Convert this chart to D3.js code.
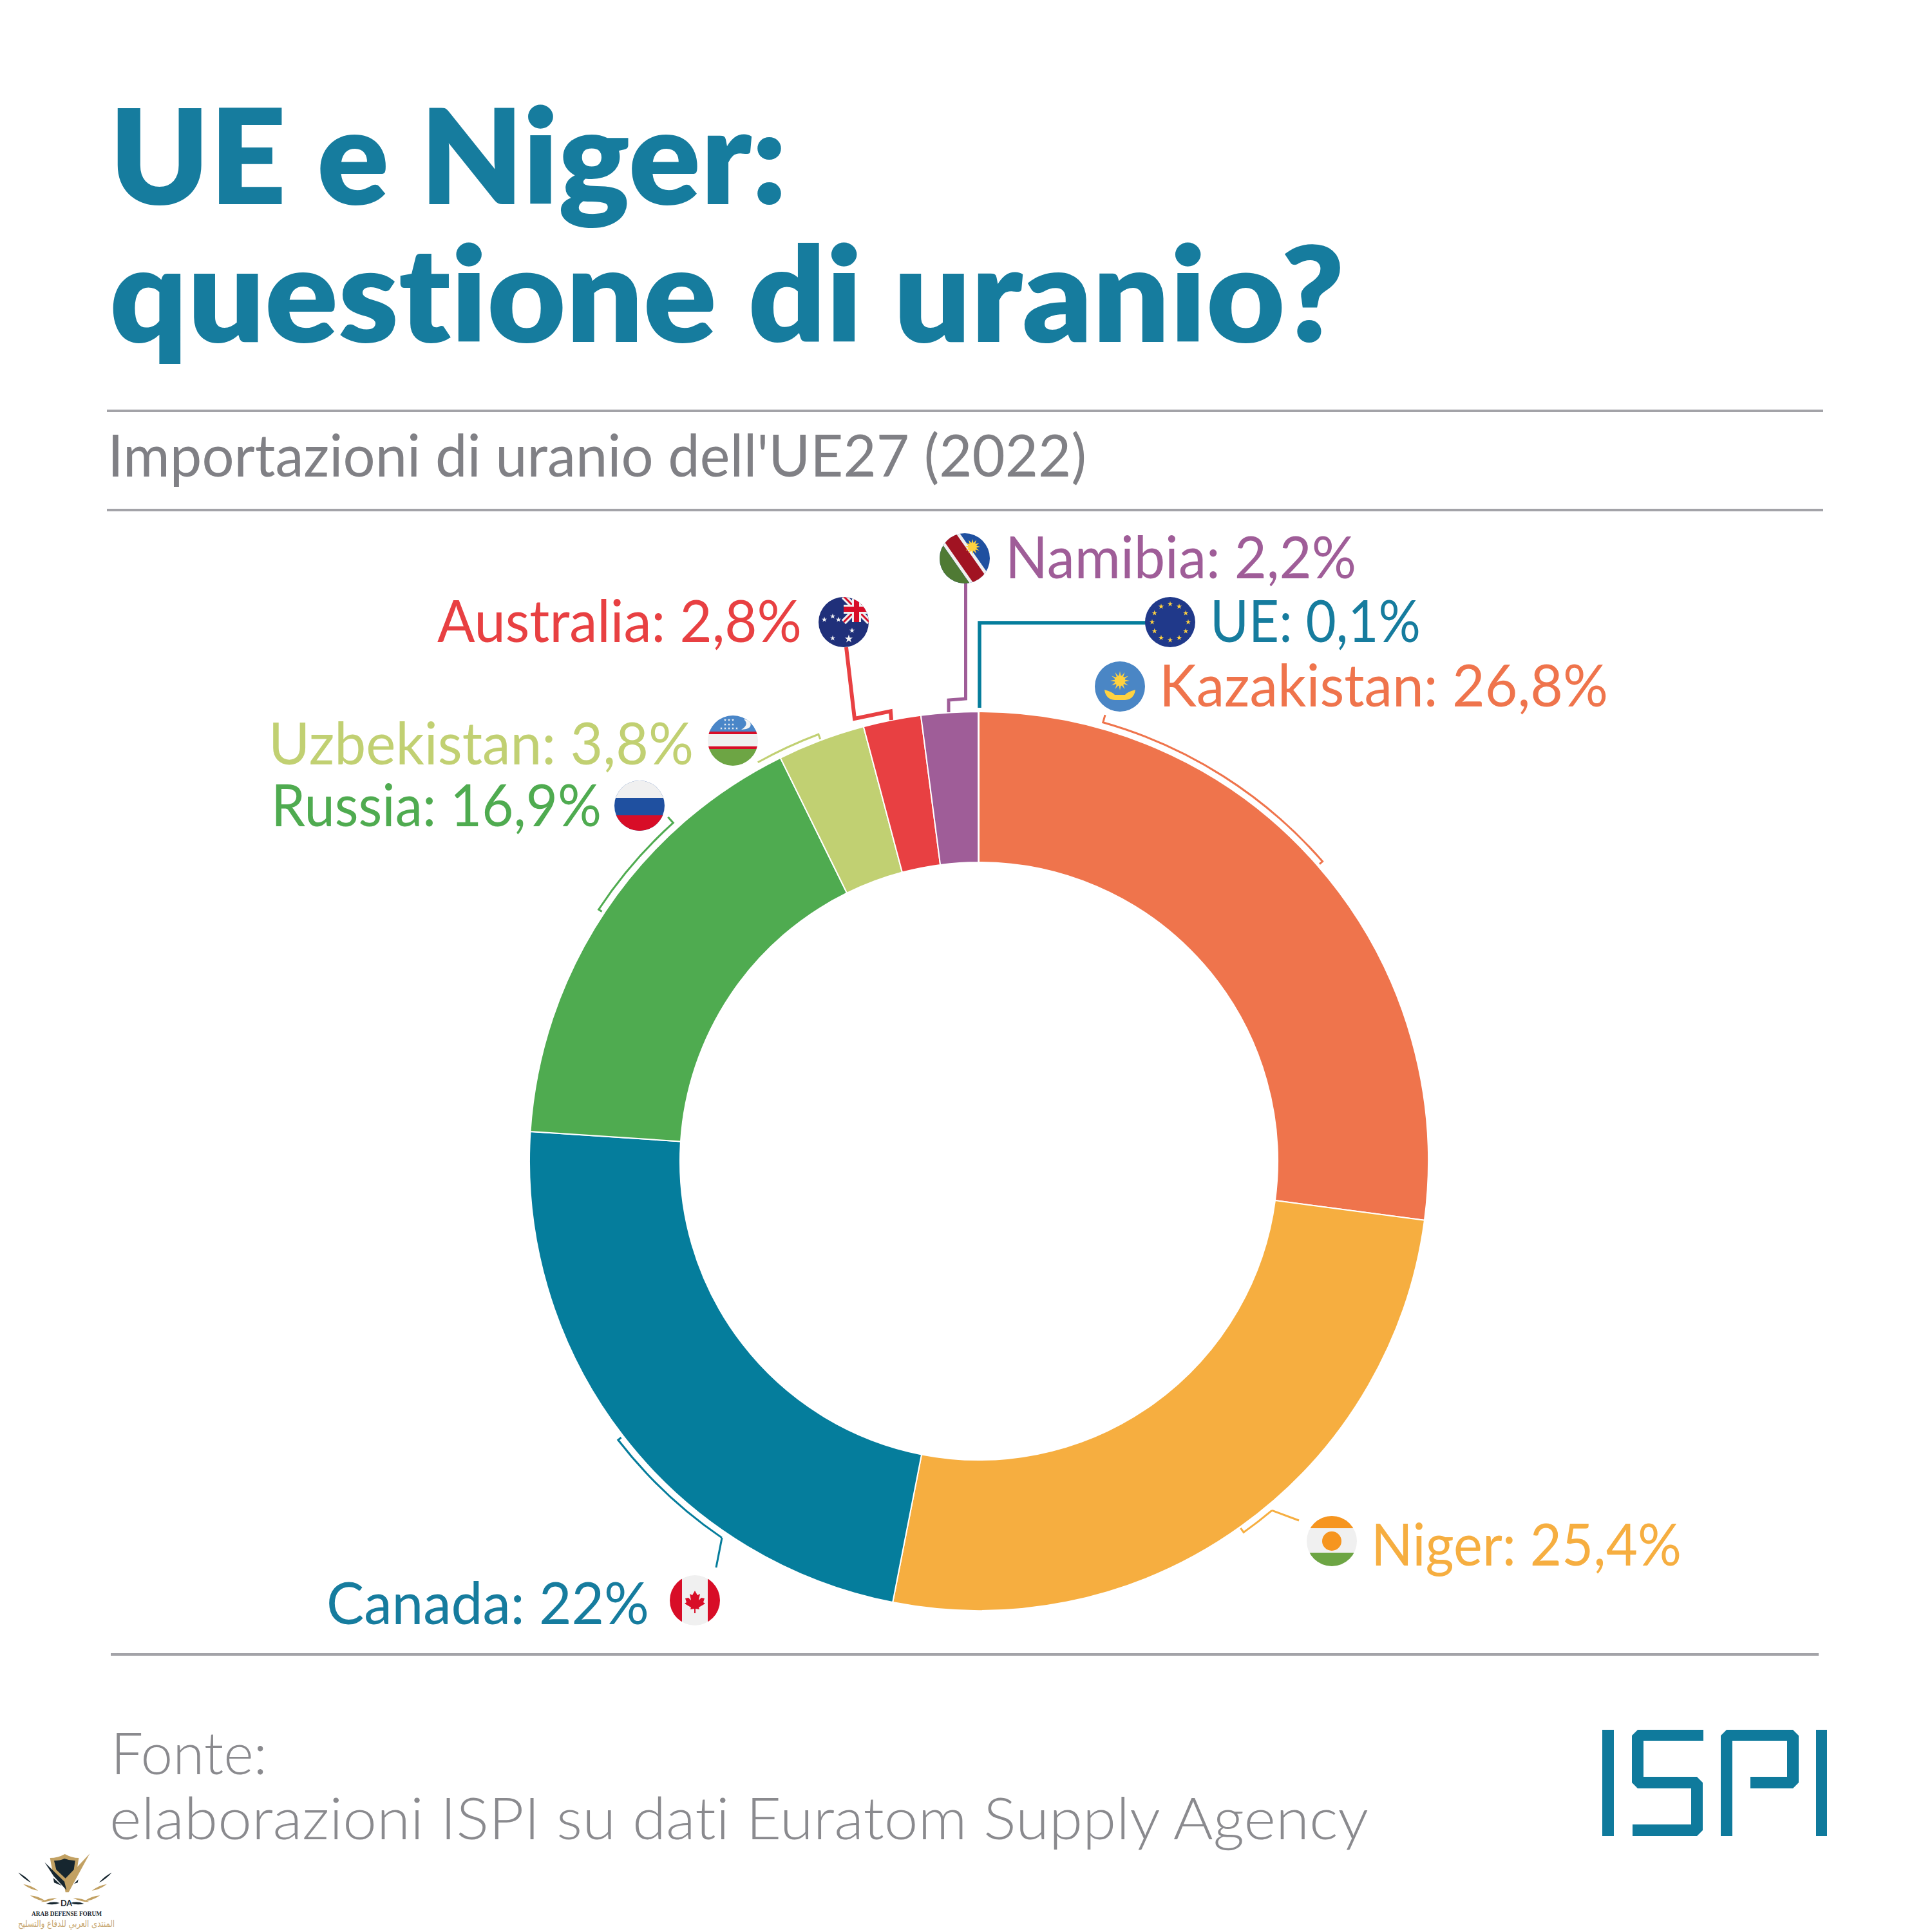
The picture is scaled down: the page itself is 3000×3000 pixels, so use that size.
<!DOCTYPE html>
<html>
<head>
<meta charset="utf-8">
<script src="https://cdn.jsdelivr.net/npm/d3@7"></script>
<style>
  html, body { margin: 0; padding: 0; background: #fff; }
  svg { display: block; }
  text { font-family: Lato, "Open Sans", sans-serif; font-variant-ligatures: none; }
</style>
</head>
<body>
<div id="chart"></div>
<script>
var countries = ['Kazakistan', 'Niger', 'Canada', 'Russia', 'Uzbekistan', 'Australia', 'Namibia', 'UE'];
// slice sizes as drawn in the picture, they do not follow the printed percentages exactly
var shares = [27.1, 25.97, 22.98, 16.67, 3.15, 2.07, 2.04, 0.02];
var shareLabels = ['26,8%', '25,4%', '22%', '16,9%', '3,8%', '2,8%', '2,2%', '0,1%'];
var colors = ['#ef744c', '#f6ae40', '#057d9c', '#4fab50', '#c1d072', '#e84042', '#9f5d98', '#057d9c'];

// layout of the labels: text left, text right, baseline, flag x, flag y
var labelBoxes = {
    Kazakistan: [1800, 2497, 1097, 1739, 1066],
    Niger: [2129, 2611, 2431, 2068, 2393],
    Canada: [507, 1008, 2522, 1079, 2485],
    Russia: [421, 934, 1283, 993, 1251],
    Uzbekistan: [417, 1077, 1187, 1138, 1150],
    Australia: [679, 1245, 997, 1310, 966],
    Namibia: [1561, 2106, 898, 1498, 867],
    UE: [1879, 2206, 997, 1817, 966]
};

// brackets hugging the ring: from / to in degrees clockwise from the top
var brackets = {
    Kazakistan: [15.8, 48.9],
    Niger: [140, 144.5],
    Canada: [214.3, 232.3],
    Russia: [303.5, 317.9],
    Uzbekistan: [331, 339.4],
    Australia: [344.4, 348.9]
};

var cx = 1520, cy = 1803, outerR = 698, innerR = 464, bracketR = 708;
var flagR = 39;

var svg = d3.select('#chart').append('svg')
    .attr('width', 3000)
    .attr('height', 3000)
    .attr('viewBox', '0 0 3000 3000');

svg.append('rect').attr('width', 3000).attr('height', 3000).attr('fill', '#fff');

function fitText(str, x1, x2, y, size, fill, weight) {
    return svg.append('text')
        .attr('x', x1)
        .attr('y', y)
        .attr('textLength', x2 - x1)
        .attr('lengthAdjust', 'spacingAndGlyphs')
        .attr('font-size', size)
        .attr('font-weight', weight || 400)
        .attr('fill', fill)
        .text(str);
}

function rule(x1, x2, y) {
    svg.append('line')
        .attr('x1', x1).attr('x2', x2)
        .attr('y1', y).attr('y2', y)
        .attr('stroke', '#a3a3a8')
        .attr('stroke-width', 4);
}

// header
fitText('UE e Niger:', 170, 1222, 317, 204, '#167c9e', 800);
fitText('questione di uranio?', 170, 2088, 531, 204, '#167c9e', 800);
rule(166, 2831, 638);
fitText("Importazioni di uranio dell'UE27 (2022)", 167, 1687, 740, 92, '#808085', 400);
rule(166, 2831, 792);

// donut
var pie = d3.pie().sort(null).value(function (d) { return d; });
var arc = d3.arc().innerRadius(innerR).outerRadius(outerR);
var ring = svg.append('g').attr('transform', 'translate(' + cx + ',' + cy + ')');

ring.selectAll('path')
    .data(pie(shares))
    .enter().append('path')
    .attr('d', arc)
    .attr('fill', function (d, i) { return colors[i]; })
    .attr('stroke', '#fff')
    .attr('stroke-width', 2);

// leader lines
function polar(deg, r) {
    var a = deg * Math.PI / 180;
    return [cx + r * Math.sin(a), cy - r * Math.cos(a)];
}

function bracketPath(name, startTick, endTick) {
    var b = brackets[name];
    var p = d3.path();
    var a0 = (b[0] - 90) * Math.PI / 180, a1 = (b[1] - 90) * Math.PI / 180;
    var s = polar(b[0], bracketR + startTick), e = polar(b[1], bracketR + endTick);
    p.moveTo(s[0], s[1]);
    p.arc(cx, cy, bracketR, a0, a1);
    p.lineTo(e[0], e[1]);
    return p;
}

function leader(name, startTick, endTick, width) {
    svg.append('path')
        .attr('d', bracketPath(name, startTick, endTick).toString())
        .attr('fill', 'none')
        .attr('stroke', colors[countries.indexOf(name)])
        .attr('stroke-width', width);
}

leader('Kazakistan', 12, -6, 3);
leader('Niger', 0, -8, 3);
svg.append('path')
    .attr('d', d3.line()([polar(140, bracketR), [2017, 2361]]))
    .attr('stroke', colors[1]).attr('stroke-width', 3).attr('fill', 'none');
leader('Canada', 0, -6, 3);
svg.append('path')
    .attr('d', d3.line()([polar(214.3, bracketR), [1112, 2434]]))
    .attr('stroke', colors[2]).attr('stroke-width', 3).attr('fill', 'none');
leader('Russia', -6, 12, 3);
leader('Uzbekistan', 0, -8, 3);

svg.append('path')
    .attr('d', d3.line()([[1314, 1005], [1327, 1116], polar(348.9, 712), [1384, 1118]]))
    .attr('fill', 'none').attr('stroke', colors[5]).attr('stroke-width', 6);
svg.append('path')
    .attr('d', d3.line()([[1499.5, 905], [1499.5, 1085], [1473, 1087], [1473, 1106]]))
    .attr('fill', 'none').attr('stroke', colors[6]).attr('stroke-width', 5);
svg.append('path')
    .attr('d', d3.line()([[1780, 967], [1521, 967], [1521, 1099]]))
    .attr('fill', 'none').attr('stroke', colors[7]).attr('stroke-width', 5.5);

// labels
var textColors = {Canada: '#167c9e', UE: '#167c9e'};
countries.forEach(function (name, i) {
    var b = labelBoxes[name];
    fitText(name + ': ' + shareLabels[i], b[0], b[1], b[2], 92, textColors[name] || colors[i], 400);
});

// flags
var defs = svg.append('defs');
var star = function (size) { return d3.symbol().type(d3.symbolStar).size(size)(); };

function rectIn(g, x, y, w, h, fill) {
    g.append('rect').attr('x', x).attr('y', y).attr('width', w).attr('height', h).attr('fill', fill);
}

function stars(g, pts, size, fill) {
    pts.forEach(function (p) {
        g.append('path').attr('d', star(size)).attr('fill', fill)
            .attr('transform', 'translate(' + p[0] + ',' + p[1] + ')');
    });
}

function sun(g, x, y, r, fill) {
    d3.range(12).forEach(function (k) {
        g.append('path')
            .attr('d', 'M-3,0L0,' + (-r) + 'L3,0Z')
            .attr('fill', fill)
            .attr('transform', 'translate(' + x + ',' + y + ') rotate(' + (k * 30) + ')');
    });
    g.append('circle').attr('cx', x).attr('cy', y).attr('r', r * 0.55).attr('fill', fill);
}

var flagDrawers = {
    Kazakistan: function (g) {
        rectIn(g, -40, -40, 80, 80, '#4a86c5');
        sun(g, 0, -9, 15, '#ffd23f');
        g.append('path').attr('d', 'M-24,5 Q-12,8 -8,13 L8,13 Q12,8 24,5 Q22,20 8,21 L-8,21 Q-22,20 -24,5Z').attr('fill', '#ffd23f');
    },
    Niger: function (g) {
        rectIn(g, -40, -40, 80, 80, '#f0f0f0');
        rectIn(g, -40, -40, 80, 20, '#f6951f');
        rectIn(g, -40, 18, 80, 22, '#6da544');
        g.append('circle').attr('r', 15).attr('fill', '#f6951f');
    },
    Canada: function (g) {
        rectIn(g, -40, -40, 80, 80, '#f0f0f0');
        rectIn(g, -40, -40, 20, 80, '#d80d27');
        rectIn(g, 20, -40, 20, 80, '#d80d27');
        g.append('path')
            .attr('d', 'M0,-15 L4,-8 L8,-10 L6,0 L10,-4 L15,-3 L13,3 L16,5 L6,11 L7,14 L1,13 L1,20 L-1,20 L-1,13 L-7,14 L-6,11 L-16,5 L-13,3 L-15,-3 L-10,-4 L-6,0 L-8,-10 L-4,-8Z')
            .attr('fill', '#d80d27');
    },
    Russia: function (g) {
        rectIn(g, -40, -40, 80, 80, '#1f50a0');
        rectIn(g, -40, -40, 80, 28, '#f0f0f0');
        rectIn(g, -40, 15, 80, 25, '#d80d27');
    },
    Uzbekistan: function (g) {
        rectIn(g, -40, -40, 80, 80, '#f0f0f0');
        rectIn(g, -40, -40, 80, 26, '#4a86c8');
        rectIn(g, -40, -14, 80, 4, '#d80d27');
        rectIn(g, -40, 9, 80, 4, '#d80d27');
        rectIn(g, -40, 13, 80, 27, '#6da544');
        stars(g, [[-12, -32], [-6, -32], [0, -32], [-12, -25], [-6, -25], [0, -25], [-18, -19], [-12, -19], [-6, -19], [0, -19], [6, -19]], 6, '#f4f4f4');
        g.append('path').attr('d', 'M17,-33 Q26,-25 13,-17 Q31,-18 27,-28 Q24,-33 17,-33Z').attr('fill', '#f4f4f4');
    },
    Australia: function (g) {
        rectIn(g, -40, -40, 80, 80, '#20307a');
        g.append('path').attr('d', 'M0,-40 L40,0 M40,-40 L0,0').attr('stroke', '#f0f0f0').attr('stroke-width', 9);
        g.append('path').attr('d', 'M0,-40 L40,0 M40,-40 L0,0').attr('stroke', '#d80d27').attr('stroke-width', 3);
        rectIn(g, 13, -40, 14, 40, '#f0f0f0');
        rectIn(g, 0, -27, 40, 14, '#f0f0f0');
        rectIn(g, 16, -40, 8, 40, '#d80d27');
        rectIn(g, 0, -24, 40, 8, '#d80d27');
        stars(g, [[-17, -9], [-30, -4], [-8, -4], [-17, 25], [13, 13]], 22, '#f4f4f4');
        stars(g, [[8, 26]], 50, '#f4f4f4');
    },
    Namibia: function (g) {
        rectIn(g, -40, -40, 80, 80, '#1f50a0');
        g.append('rect').attr('x', -70).attr('y', -16).attr('width', 140).attr('height', 32).attr('fill', '#f0f0f0').attr('transform', 'rotate(55)');
        g.append('rect').attr('x', -70).attr('y', -11).attr('width', 140).attr('height', 22).attr('fill', '#a11322').attr('transform', 'rotate(55)');
        g.append('rect').attr('x', -70).attr('y', 16).attr('width', 140).attr('height', 60).attr('fill', '#4f7a34').attr('transform', 'rotate(55)');
        sun(g, 12, -18, 12, '#ffd23f');
    },
    UE: function (g) {
        rectIn(g, -40, -40, 80, 80, '#20398a');
        stars(g, d3.range(12).map(function (k) {
            var a = k * Math.PI / 6;
            return [28 * Math.sin(a), -28 * Math.cos(a)];
        }), 22, '#ffd23f');
    }
};

countries.forEach(function (name, i) {
    var b = labelBoxes[name];
    defs.append('clipPath').attr('id', 'flag' + i)
        .append('circle').attr('r', flagR);
    var g = svg.append('g')
        .attr('transform', 'translate(' + b[3] + ',' + b[4] + ')')
        .attr('clip-path', 'url(#flag' + i + ')');
    flagDrawers[name](g);
});

// footer
rule(172, 2824, 2569);
fitText('Fonte:', 172, 415, 2755, 90, '#8a8a8e', 300);
fitText('elaborazioni ISPI su dati Euratom Supply Agency', 170, 2125, 2856, 90, '#8a8a8e', 300);

// ISPI logo
var logoPaths = [
    'M2488,2686H2506V2851H2488Z',
    'M2543,2686H2645V2703H2552V2759H2635L2644,2768V2842L2635,2851H2535V2833H2626V2777H2543L2534,2768V2695Z',
    'M2681,2686H2784L2793,2695V2768L2784,2777H2718V2759H2775V2703H2690V2851H2672V2695Z',
    'M2820,2686H2837V2851H2820Z'
];
svg.append('g').selectAll('path')
    .data(logoPaths)
    .enter().append('path')
    .attr('d', function (d) { return d; })
    .attr('fill', '#0f7a9c');

// forum watermark, bottom left
var mark = svg.append('g').attr('transform', 'translate(0,2860) scale(0.3333)');
var gold = '#c2a163', dark = '#16262f';
mark.append('path').attr('d', 'M233,75 Q270,75 302,57 Q335,75 367,75 L358,135 L300,195 L245,140Z').attr('fill', gold);
mark.append('path').attr('d', 'M252,88 Q280,88 300,78 Q325,88 350,88 L344,130 L305,170 L262,130Z').attr('fill', dark);
mark.append('path').attr('d', 'M296,185 L418,55 L320,235 L305,235 Z').attr('fill', gold);
mark.append('path').attr('d', 'M208,95 L300,185 L310,225 L250,160Z').attr('fill', dark);
mark.append('path').attr('d', 'M248,168 L288,205 L252,190Z M365,175 L345,195 L362,190Z').attr('fill', dark);

var feathers = [
    [85, 143, 145, 190, dark, 10], [108, 197, 178, 227, gold, 11], [140, 250, 215, 277, gold, 12],
    [190, 280, 265, 262, gold, 10], [215, 288, 278, 285, dark, 11]
];
feathers.forEach(function (f) {
    [0, 1].forEach(function (side) {
        var x1 = side ? 606 - f[0] : f[0], x2 = side ? 606 - f[2] : f[2];
        var mx = (x1 + x2) / 2, my = (f[1] + f[3]) / 2;
        mark.append('path')
            .attr('d', 'M' + x1 + ',' + f[1] + ' Q' + mx + ',' + (my - f[5]) + ' ' + x2 + ',' + f[3] + ' Q' + mx + ',' + (my + f[5]) + ' ' + x1 + ',' + f[1] + 'Z')
            .attr('fill', f[4]);
    });
});
fitText('DA', 94, 112, 2960, 14, dark, 700);
fitText('ARAB DEFENSE FORUM', 49, 158, 2975, 11, dark, 700).style('font-family', '"Liberation Serif", serif');
// rtl text starts at its right edge
svg.append('text')
    .attr('x', 178).attr('y', 2992)
    .attr('direction', 'rtl')
    .attr('textLength', 150)
    .attr('lengthAdjust', 'spacingAndGlyphs')
    .attr('font-size', 15).attr('fill', '#c7a874')
    .style('font-family', '"DejaVu Sans", sans-serif')
    .text('المنتدى العربي للدفاع والتسليح');
</script>
</body>
</html>
